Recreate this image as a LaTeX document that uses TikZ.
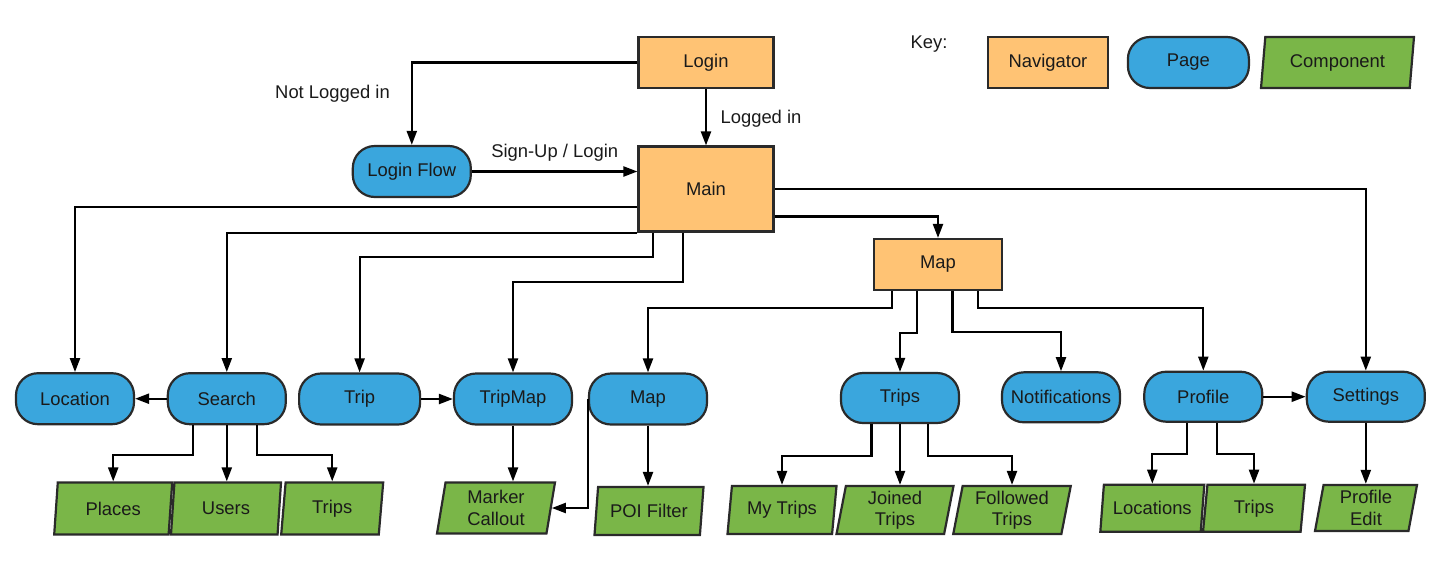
\documentclass[tikz,border=0pt]{standalone}
\usepackage{fontspec}
\setmainfont{Liberation Sans}
\usetikzlibrary{shapes.geometric,arrows.meta,calc}
\definecolor{navfill}{HTML}{FFC374}
\definecolor{pagefill}{HTML}{3AA6DD}
\definecolor{compfill}{HTML}{7AB648}
\definecolor{edgecol}{HTML}{2A2A2A}
\definecolor{txtcol}{HTML}{1A1A1A}
\begin{document}
\begin{tikzpicture}[x=1pt,y=-1pt,
  font=\fontsize{18.4}{21.5}\selectfont, text=txtcol,
  nav/.style={draw=edgecol, line width=2.2pt, fill=navfill, minimum width=135pt, minimum height=51pt, inner sep=2pt},
  page/.style={draw=edgecol, line width=2.2pt, fill=pagefill, rounded corners=22pt, minimum width=118pt, minimum height=51pt, inner sep=2pt},
  comp/.style={draw=edgecol, line width=2.2pt, fill=compfill, trapezium, trapezium left angle=77, trapezium right angle=103, trapezium stretches body, minimum height=50pt, inner sep=1pt, align=center},
  arr/.style={draw=black, line width=2.2pt, -{Triangle[length=14pt,width=10pt]}},
  lbl/.style={inner sep=0pt}
]
\useasboundingbox (0,0) rectangle (1450,568);

% navigators
\node[nav] (login) at (706,62.5) {Login};
\node[nav, minimum height=85pt] (main) at (706,189) {Main};
\node[nav, minimum width=128pt] (mapnav) at (938,264.5) {Map};
\node[nav, minimum width=120pt] (keynav) at (1048,62.5) {Navigator};

% pages
\node[page] (loginflow) at (411.8,171.5) {Login Flow};
\node[page] (location) at (75,398.7) {Location};
\node[page] (search) at (226.8,398.7) {Search};
\node[page, minimum width=121pt] (trip) at (359.6,399) {Trip};
\node[page] (tripmap) at (513,399) {TripMap};
\node[page] (mappage) at (648,399) {Map};
\node[page, minimum height=50pt] (trips) at (900,398) {Trips};
\node[page, minimum height=50pt] (notif) at (1061,397.3) {Notifications};
\node[page, minimum height=50pt] (profile) at (1203.3,396.7) {Profile};
\node[page, minimum height=50pt] (settings) at (1365.8,396.7) {Settings};
\node[page, minimum width=121pt] (keypage) at (1188.4,62.5) {Page};

% components
\node[comp, minimum width=118pt, minimum height=52pt] (places) at (113.2,508.5) {Places};
\node[comp, minimum width=110pt, minimum height=52pt] (users) at (226,508.5) {Users};
\node[comp, minimum width=102pt, minimum height=52pt] (strips) at (332.2,508.5) {Trips};
\node[comp, minimum width=118pt, minimum height=51pt] (marker) at (496,508) {Marker\\Callout};
\node[comp, minimum width=109pt, minimum height=48pt] (poi) at (649,511) {POI Filter};
\node[comp, minimum width=109pt, minimum height=48pt] (mytrips) at (782,510) {My Trips};
\node[comp, minimum width=117pt, minimum height=48pt] (joined) at (895,510) {Joined\\Trips};
\node[comp, minimum width=117.5pt, minimum height=48pt] (followed) at (1012,510) {Followed\\Trips};
\node[comp, minimum width=104pt, minimum height=47pt] (locations) at (1152.3,508.3) {Locations};
\node[comp, minimum width=102pt, minimum height=47pt] (ptrips) at (1254,508.3) {Trips};
\node[comp, minimum width=102pt, minimum height=46pt] (pedit) at (1366,508) {Profile\\Edit};
\node[comp, minimum width=153pt, minimum height=51pt] (keycomp) at (1337.5,62.5) {Component};

% labels
\node[lbl] (notlogged) at (332.5,94) {Not Logged in};
\node[lbl] (loggedin) at (761,119) {Logged in};
\node[lbl] (signup) at (554.7,152.7) {Sign-Up / Login};
\node[lbl] (key) at (929,44) {Key:};

% connectors
\draw[arr] (login.west) -| (loginflow.north);
\draw[arr] (login.south) -- (main.north);
\draw[arr] (loginflow.east) -- (loginflow.east -| main.west);
\draw[arr] ([yshift=-18pt]main.west) -| (location.north);
\draw[arr] (main.south west) -| (search.north);
\draw[arr] ([xshift=15.5pt]main.south west) -- ++(0,-24.5pt) -| (trip.north);
\draw[arr] ([xshift=45.5pt]main.south west) -- ++(0,-49.5pt) -| (tripmap.north);
\draw[arr] ([yshift=-27.5pt]main.east) -| (mapnav.north);
\draw[arr] (main.east) -| (settings.north);
\draw[arr] ([xshift=19pt]mapnav.south west) -- ++(0,-16.5pt) -| (mappage.north);
\draw[arr] ([xshift=44pt]mapnav.south west) -- ++(0,-42pt) -| (trips.north);
\draw[arr] ([xshift=79.5pt]mapnav.south west) -- ++(0,-41pt) -| (notif.north);
\draw[arr] ([xshift=105pt]mapnav.south west) -- ++(0,-16.5pt) -| (profile.north);
\draw[arr] (search.west) -- (location.east);
\draw[arr] (trip.east) -- (tripmap.west);
\draw[arr] (profile.east) -- (settings.west);
\draw[arr] ([xshift=-34pt]search.south) -- ++(0,-29.5pt) -| (places.north);
\draw[arr] (search.south) -- (search.south |- users.north);
\draw[arr] ([xshift=30.5pt]search.south) -- ++(0,-29.5pt) -| (strips.north);
\draw[arr] (tripmap.south) -- (tripmap.south |- marker.north);
\draw[arr] (mappage.west) |- (marker.east);
\draw[arr] (mappage.south) -- (mappage.south |- poi.north);
\draw[arr] ([xshift=-28.5pt]trips.south) -- ++(0,-32pt) -| (mytrips.north);
\draw[arr] (trips.south) -- (trips.south |- joined.north);
\draw[arr] ([xshift=28pt]trips.south) -- ++(0,-32pt) -| (followed.north);
\draw[arr] ([xshift=-16pt]profile.south) -- ++(0,-31.5pt) -| (locations.north);
\draw[arr] ([xshift=13.5pt]profile.south) -- ++(0,-31.5pt) -| (ptrips.north);
\draw[arr] (settings.south) -- (settings.south |- pedit.north);
\end{tikzpicture}
\end{document}
